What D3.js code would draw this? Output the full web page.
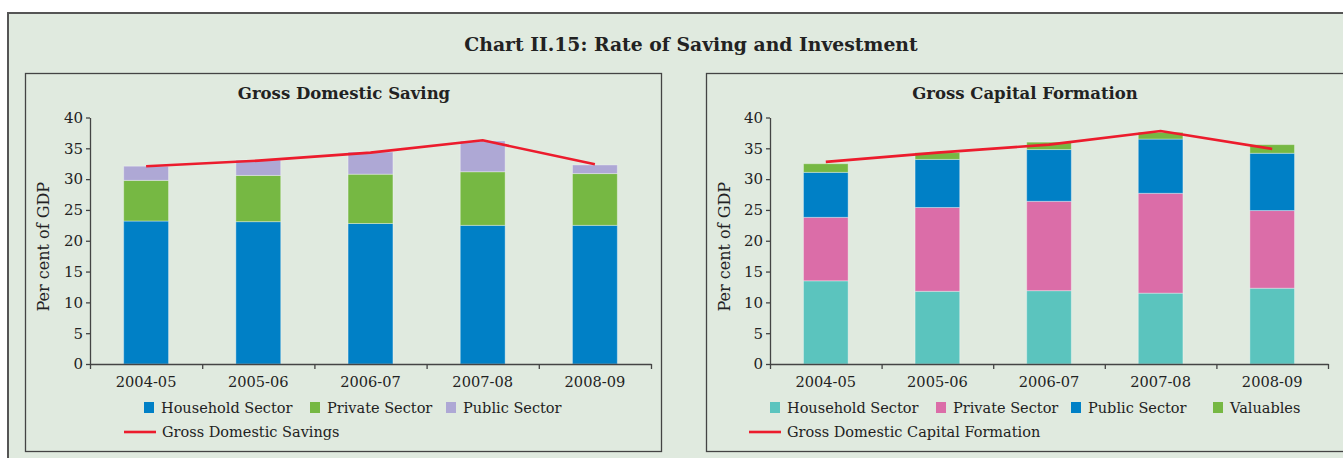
<!DOCTYPE html>
<html>
<head>
<meta charset="utf-8">
<script src="https://cdn.jsdelivr.net/npm/d3@7"></script>
<style>
  body { margin: 0; background: #fff; }
  text { font-family: "DejaVu Serif", serif; fill: #222; }
</style>
</head>
<body>
<div id="chart"></div>
<script>
// DATA
const years = ["2004-05", "2005-06", "2006-07", "2007-08", "2008-09"];
const yTicks = [0, 5, 10, 15, 20, 25, 30, 35, 40];

// Gross Domestic Saving (per cent of GDP)
const gdsHousehold = [23.2, 23.1, 22.8, 22.5, 22.5];
const gdsPrivate   = [6.6, 7.5, 8.0, 8.7, 8.4];
const gdsPublic    = [2.3, 2.5, 3.6, 5.0, 1.4];
const gdsTotal     = [32.1, 33.0, 34.3, 36.3, 32.4];

// Gross Capital Formation (per cent of GDP)
const gcfHousehold = [13.5, 11.8, 11.9, 11.5, 12.3];
const gcfPrivate   = [10.3, 13.6, 14.5, 16.2, 12.6];
const gcfPublic    = [7.3, 7.8, 8.4, 8.8, 9.3];
const gcfValuables = [1.4, 1.1, 1.2, 1.1, 1.4];
const gcfTotal     = [32.8, 34.3, 35.6, 37.8, 34.9];

const W = 1343, H = 458;
const svg = d3.select("#chart").append("svg")
    .attr("width", W)
    .attr("height", H);

// outer frame
svg.append("rect")
    .attr("x", 8).attr("y", 13)
    .attr("width", 1400).attr("height", 500)
    .attr("fill", "#e0eadf")
    .attr("stroke", "#555")
    .attr("stroke-width", 2);

svg.append("text")
    .attr("x", 691).attr("y", 51)
    .attr("text-anchor", "middle")
    .style("font-size", "18.8px")
    .style("font-weight", "bold")
    .text("Chart II.15: Rate of Saving and Investment");

function drawPanel(p) {
  // panel box
  svg.append("rect")
      .attr("x", p.box[0] + 0.5).attr("y", 73.5)
      .attr("width", p.box[1]).attr("height", 378)
      .attr("fill", "none")
      .attr("stroke", "#444")
      .attr("stroke-width", 1.3);

  svg.append("text")
      .attr("x", p.titleX).attr("y", 99)
      .attr("text-anchor", "middle")
      .style("font-size", "16.5px")
      .style("font-weight", "bold")
      .text(p.title);

  const x = d3.scaleBand().domain(years).range([p.x0, p.x1]).paddingInner(0.6).paddingOuter(0.3);
  const xEdge = d3.scaleLinear().domain([0, years.length]).range([p.x0, p.x1]);
  const y = d3.scaleLinear().domain([0, 40]).range([364, 117.5]);

  // stacked bars
  const rows = years.map((yr, i) => {
    const r = { year: yr };
    p.series.forEach(s => r[s.name] = s.values[i]);
    return r;
  });
  const stack = d3.stack().keys(p.series.map(s => s.name))(rows);
  const g = svg.append("g");
  g.selectAll("g.layer")
    .data(stack)
    .join("g")
      .attr("class", "layer")
      .attr("fill", (d, i) => p.series[i].color)
    .selectAll("rect")
    .data(d => d)
    .join("rect")
      .attr("x", d => x(d.data.year))
      .attr("y", d => y(d[1]))
      .attr("width", x.bandwidth())
      .attr("height", d => y(d[0]) - y(d[1]))
      .attr("stroke", "rgba(255,255,255,0.35)")
      .attr("stroke-width", 1);

  // axes
  const yAxis = d3.axisLeft(y).tickValues(yTicks).tickSize(4).tickSizeOuter(0).tickPadding(3);
  const ya = svg.append("g").attr("transform", `translate(${p.x0},0)`).call(yAxis);
  ya.selectAll("text").style("font-size", "15px").attr("fill", "#222");
  ya.selectAll("line, path").attr("stroke", "#444").attr("stroke-width", 1.3);

  const xTickAxis = d3.axisBottom(xEdge).tickValues(d3.range(years.length + 1)).tickFormat("").tickSize(5).tickSizeOuter(0);
  const xa = svg.append("g").attr("transform", "translate(0,364)").call(xTickAxis);
  xa.selectAll("line, path").attr("stroke", "#444").attr("stroke-width", 1.3);

  const xLab = d3.axisBottom(x).tickSize(0).tickPadding(13);
  const xl = svg.append("g").attr("transform", "translate(0,364)").call(xLab);
  xl.select(".domain").remove();
  xl.selectAll("text").style("font-size", "14.6px").attr("fill", "#222");

  // y title
  svg.append("text")
      .attr("transform", `translate(${p.yTitleX},${y(20) + 6}) rotate(-90)`)
      .attr("text-anchor", "middle")
      .style("font-size", "16px")
      .text("Per cent of GDP");

  // total line
  const line = d3.line()
      .x((d, i) => x(years[i]) + x.bandwidth() / 2)
      .y(d => y(d));
  svg.append("path")
      .datum(p.total)
      .attr("d", line)
      .attr("fill", "none")
      .attr("stroke", "#ec1c2d")
      .attr("stroke-width", 2.6);

  // legend
  const lg = svg.append("g");
  p.series.forEach((s, i) => {
    const lx = p.legendX[i];
    lg.append("rect")
        .attr("x", lx).attr("y", 402)
        .attr("width", 10).attr("height", 11)
        .attr("fill", s.color);
    lg.append("text")
        .attr("x", lx + 17).attr("y", 413)
        .style("font-size", "14.5px")
        .text(s.name);
  });
  lg.append("line")
      .attr("x1", p.lineLegendX).attr("x2", p.lineLegendX + 32)
      .attr("y1", 432).attr("y2", 432)
      .attr("stroke", "#ec1c2d")
      .attr("stroke-width", 2.6);
  lg.append("text")
      .attr("x", p.lineLegendX + 38).attr("y", 437)
      .style("font-size", "14.5px")
      .text(p.lineName);
}

drawPanel({
  box: [25, 636],
  title: "Gross Domestic Saving",
  titleX: 344,
  x0: 90, x1: 651,
  yTitleX: 49,
  series: [
    { name: "Household Sector", values: gdsHousehold, color: "#0080c6" },
    { name: "Private Sector", values: gdsPrivate, color: "#76b843" },
    { name: "Public Sector", values: gdsPublic, color: "#aea8d5" }
  ],
  total: gdsTotal,
  lineName: "Gross Domestic Savings",
  legendX: [144, 310, 446],
  lineLegendX: 124
});

drawPanel({
  box: [706, 700],
  title: "Gross Capital Formation",
  titleX: 1025,
  x0: 770, x1: 1328,
  yTitleX: 730,
  series: [
    { name: "Household Sector", values: gcfHousehold, color: "#5bc4be" },
    { name: "Private Sector", values: gcfPrivate, color: "#db6da8" },
    { name: "Public Sector", values: gcfPublic, color: "#0080c6" },
    { name: "Valuables", values: gcfValuables, color: "#76b843" }
  ],
  total: gcfTotal,
  lineName: "Gross Domestic Capital Formation",
  legendX: [770, 936, 1071, 1213],
  lineLegendX: 749
});
</script>
</body>
</html>
